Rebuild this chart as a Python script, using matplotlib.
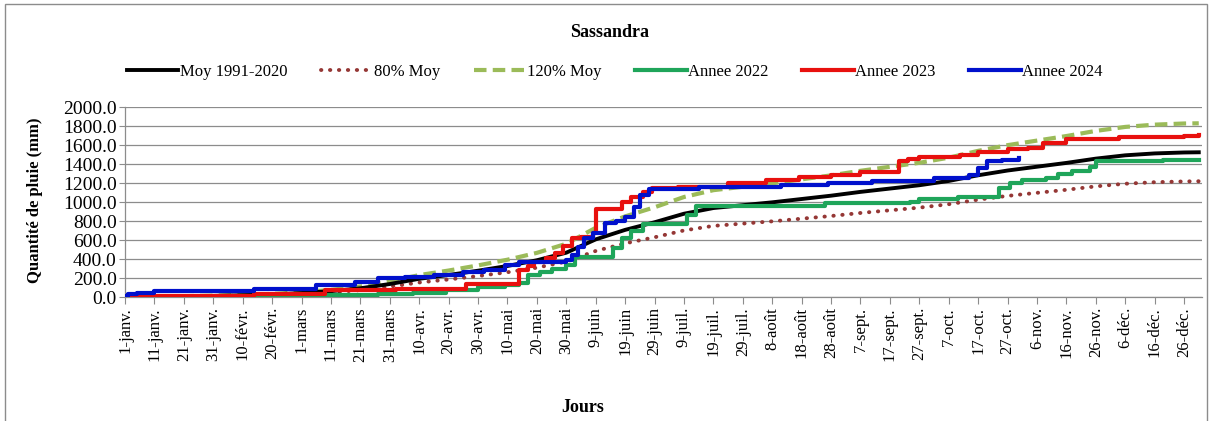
import numpy as np
import matplotlib
matplotlib.use("Agg")
import matplotlib.pyplot as plt
from matplotlib.patches import Rectangle
from matplotlib.ticker import FormatStrFormatter

plt.rcParams["font.family"] = ["Liberation Serif", "DejaVu Serif"]

# ===========================
# Data (cumulative rainfall, mm)
# ===========================

# day of year (0 = 1 janv.)
moy_days = [0, 10, 20, 30, 40, 50, 60, 70, 80, 90, 100, 110, 120, 130, 140, 150,
            160, 170, 180, 190, 200, 210, 220, 230, 240, 250, 260, 270, 280, 290,
            300, 310, 320, 330, 340, 350, 360, 365]
moy_vals = [0, 5, 10, 15, 22, 30, 45, 65, 95, 140, 195, 235, 280, 330, 390, 470,
            610, 710, 790, 880, 940, 970, 1000, 1035, 1070, 1110, 1145, 1180, 1225,
            1285, 1335, 1375, 1415, 1460, 1495, 1515, 1525, 1527]
moy80_vals = [0, 4, 8, 12, 18, 24, 36, 52, 76, 112, 156, 188, 224, 264, 312, 376,
              488, 568, 632, 704, 752, 776, 800, 828, 856, 888, 916, 944, 980,
              1028, 1068, 1100, 1132, 1168, 1196, 1212, 1220, 1222]
moy120_vals = [0, 6, 12, 18, 26, 36, 54, 78, 114, 168, 234, 282, 336, 396, 468, 564,
               732, 852, 948, 1056, 1128, 1164, 1200, 1242, 1284, 1332, 1374, 1416,
               1470, 1542, 1602, 1650, 1698, 1752, 1794, 1818, 1830, 1832]

y2022_days = [0, 58, 68, 86, 98, 109, 120, 129, 134, 137, 141, 145, 150, 153, 166,
              169, 172, 176, 191, 194, 238, 267, 270, 283, 295, 297, 301, 305, 313,
              317, 322, 328, 330, 353, 365]
y2022_vals = [0, 5, 20, 30, 45, 75, 110, 130, 150, 230, 270, 300, 335, 425, 520,
              620, 700, 775, 865, 965, 990, 1000, 1040, 1055, 1060, 1155, 1205, 1235,
              1255, 1295, 1330, 1375, 1435, 1445, 1445]

y2023_days = [0, 10, 30, 44, 68, 92, 116, 134, 137, 139, 143, 146, 149, 152, 155,
              159, 160, 169, 172, 176, 179, 188, 205, 218, 229, 240, 250, 263, 266,
              270, 284, 290, 300, 307, 312, 320, 338, 360, 365]
y2023_vals = [5, 10, 15, 40, 75, 85, 135, 290, 325, 375, 410, 465, 535, 620, 640,
              675, 935, 1005, 1060, 1110, 1150, 1165, 1200, 1240, 1265, 1290, 1320,
              1430, 1455, 1475, 1500, 1530, 1560, 1575, 1620, 1665, 1685, 1695, 1705]

y2024_days = [0, 1, 4, 10, 44, 65, 78, 86, 95, 105, 115, 122, 129, 134, 150, 152,
              154, 156, 159, 163, 167, 170, 173, 175, 178, 195, 223, 239, 254, 275,
              287, 290, 293, 298, 304]
y2024_vals = [15, 35, 50, 65, 90, 125, 160, 200, 215, 240, 270, 290, 340, 375, 395,
              445, 530, 620, 675, 780, 800, 850, 950, 1075, 1140, 1160, 1183, 1200,
              1228, 1260, 1290, 1360, 1430, 1450, 1463]

tick_days = list(range(0, 361, 10))
tick_labels = ["1-janv.", "11-janv.", "21-janv.", "31-janv.", "10-févr.", "20-févr.",
               "1-mars", "11-mars", "21-mars", "31-mars", "10-avr.", "20-avr.",
               "30-avr.", "10-mai", "20-mai", "30-mai", "9-juin", "19-juin",
               "29-juin", "9-juil.", "19-juil.", "29-juil.", "8-août", "18-août",
               "28-août", "7-sept.", "17-sept.", "27-sept.", "7-oct.", "17-oct.",
               "27-oct.", "6-nov.", "16-nov.", "26-nov.", "6-déc.", "16-déc.",
               "26-déc."]

# ===========================
# Figure
# ===========================

fig = plt.figure(figsize=(12.2, 4.21), dpi=100)
ax = fig.add_axes([0.1025, 0.2938, 0.8825, 0.4512])

ax.plot(moy_days, moy_vals, color="black", lw=2.8, label="Moy 1991-2020", zorder=3)
ax.plot(moy_days, moy80_vals, color="#953735", lw=2.8, linestyle=(0, (0.1, 2.2)),
        dash_capstyle="round", label="80% Moy", zorder=2)
ax.plot(moy_days, moy120_vals, color="#9BBB59", lw=3.0, linestyle=(0, (3, 1.5)),
        label="120% Moy", zorder=2)
ax.plot(y2022_days, y2022_vals, color="#1FA55A", lw=3.0, drawstyle="steps-post",
        label="Annee 2022", zorder=4)
ax.plot(y2023_days, y2023_vals, color="#E8100E", lw=3.0, drawstyle="steps-post",
        label="Annee 2023", zorder=5)
ax.plot(y2024_days, y2024_vals, color="#0010CC", lw=3.0, drawstyle="steps-post",
        label="Annee 2024", zorder=6)

ax.set_xlim(0, 366)
ax.set_ylim(0, 2000)
ax.set_yticks(np.arange(0, 2001, 200))
ax.yaxis.set_major_formatter(FormatStrFormatter("%.1f"))
ax.set_xticks(tick_days)
ax.set_xticklabels(tick_labels, rotation=90)
ax.grid(axis="y", color="#8C8C8C", lw=0.9)
ax.set_axisbelow(True)
for side in ["top", "right"]:
    ax.spines[side].set_visible(False)
for side in ["left", "bottom"]:
    ax.spines[side].set_color("#8C8C8C")
    ax.spines[side].set_linewidth(0.9)
ax.tick_params(axis="y", labelsize=14, length=4, color="#8C8C8C", pad=2)
ax.tick_params(axis="x", labelsize=12, length=5, color="#8C8C8C", pad=2)

fig.text(0.5, 0.922, "Sassandra", ha="center", va="center", fontsize=13,
         fontweight="bold")
fig.text(0.029, 0.525, "Quantité de pluie (mm)", rotation=90, ha="center",
         va="center", fontsize=12, fontweight="bold")
fig.text(0.478, 0.033, "Jours", ha="center", va="center", fontsize=13,
         fontweight="bold")

fig.legend(loc="center", bbox_to_anchor=(0.504, 0.829), ncol=6, frameon=False,
           fontsize=12, handlelength=3.1, handletextpad=0.1, columnspacing=2.0)

# outer chart frame
fig.patches.append(Rectangle((5 / 1220, -0.05), 1202 / 1220, 1.05 - 4 / 421,
                             transform=fig.transFigure, fill=False,
                             edgecolor="#8C8C8C", lw=1.0))

fig.savefig("out.png", dpi=100)
